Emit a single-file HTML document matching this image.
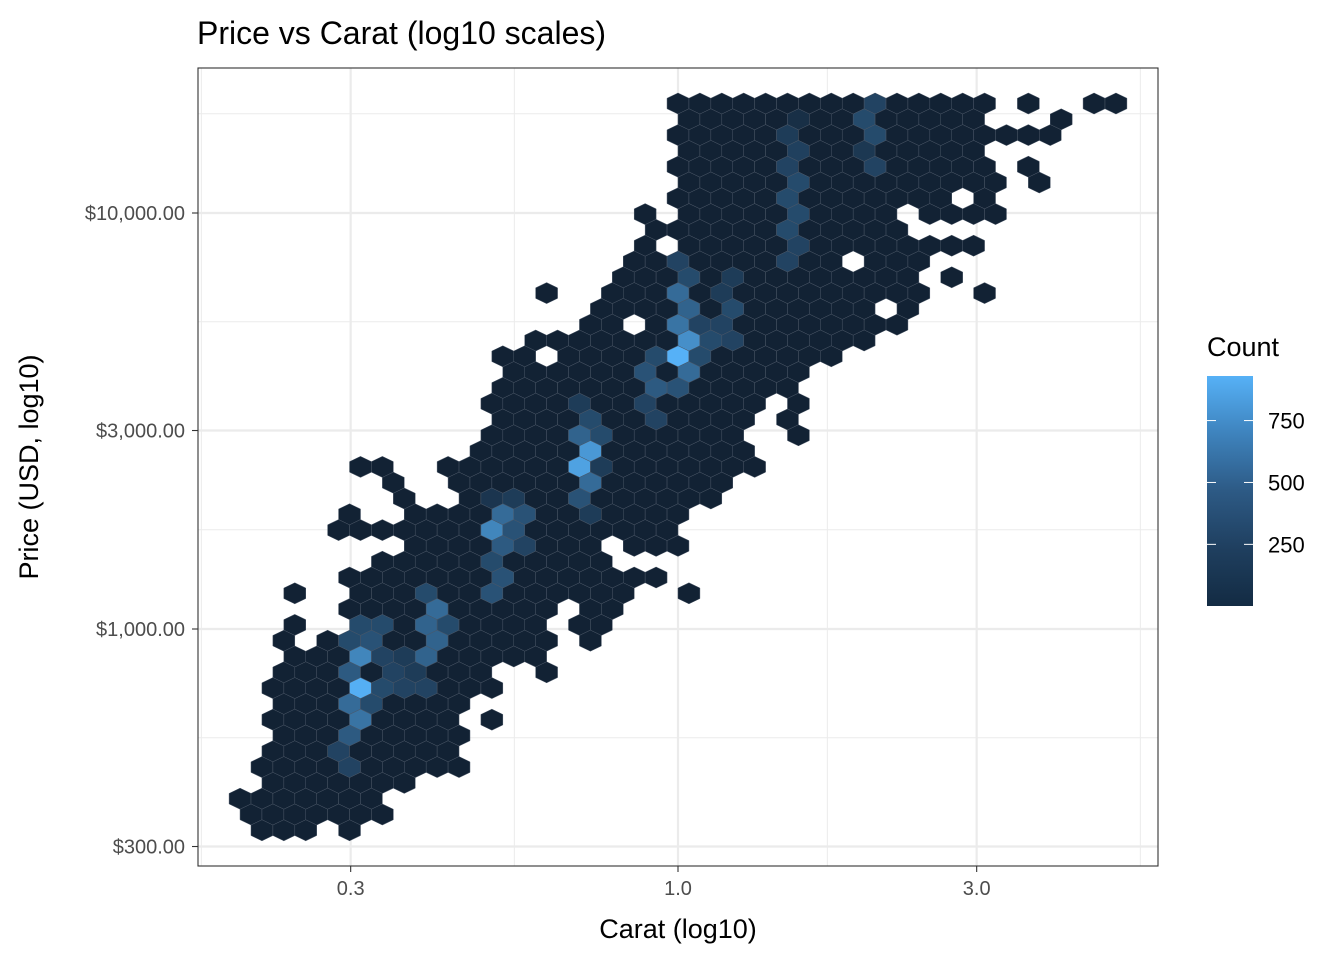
<!DOCTYPE html>
<html><head><meta charset="utf-8"><style>
html,body{margin:0;padding:0;background:#fff;}
svg{display:block;font-family:"Liberation Sans",Arial,sans-serif;}
</style></head><body>
<svg id="chart" width="1344" height="960" viewBox="0 0 1344 960" xmlns="http://www.w3.org/2000/svg">
<rect x="0" y="0" width="1344" height="960" fill="#fff"/>
<text x="197" y="44" font-size="32" fill="#000">Price vs Carat (log10 scales)</text>
<rect x="198" y="68" width="960" height="798" fill="#fff"/>
<g id="grid"></g>
<g id="hexes"></g>
<rect x="198" y="68" width="960" height="798" fill="none" stroke="#333" stroke-width="1.1"/>
<g id="axes"></g>
<text x="678" y="938" font-size="27" text-anchor="middle" fill="#000">Carat (log10)</text>
<text transform="translate(38,467) rotate(-90)" font-size="27" text-anchor="middle" fill="#000">Price (USD, log10)</text>
<g id="legend">
<text x="1207" y="356" font-size="27" fill="#000">Count</text>
<defs><linearGradient id="cg" x1="0" y1="1" x2="0" y2="0">
<stop offset="0" stop-color="#132B43"/><stop offset="0.25" stop-color="#1f3f5f"/><stop offset="0.5" stop-color="#2d5a85"/><stop offset="0.75" stop-color="#3e83bd"/><stop offset="1" stop-color="#56B1F7"/></linearGradient></defs>
<rect x="1207" y="376" width="46" height="230" fill="url(#cg)"/>
</g>
</svg>
<script>
// axis data
const xMajorTicks = [0.3, 1.0, 3.0];
const xTickLabels = ["0.3", "1.0", "3.0"];
const xMinorTicks = [0.1732, 0.5477, 1.7321, 5.4772];
const yMajorTicks = [300, 1000, 3000, 10000];
const yTickLabels = ["$300.00", "$1,000.00", "$3,000.00", "$10,000.00"];
const yMinorTicks = [547.7, 1732.1, 5477.2, 17320.5];
const legendTicks = [250, 500, 750];
const countMin = 1;
const countMax = 930;
// hex bin grid (bin indices) : origin and bin size in log10 units
const binOriginX = 0;        // log10 carat of column 0
const binWidthX = 0.03498;
const binOriginY = 4.2632;   // log10 price of row 0
const binHeightY = 0.03798;
// occupied runs: [row, firstCol, lastCol]  (default count)
const hexRuns = [
[0,0,14],[0,16,16],[0,19,20],
[1,0,13],[1,17,17],
[2,0,17],
[3,0,13],
[4,0,14],[4,16,16],
[5,0,14],[5,16,16],
[6,0,12],[6,14,14],
[7,-2,-2],[7,0,9],[7,11,14],
[8,-1,10],
[9,-2,-2],[9,0,13],
[10,-2,7],[10,9,11],
[11,-3,10],[11,12,12],
[12,-6,-6],[12,-3,11],[12,14,14],
[13,-4,8],[13,10,10],
[14,-4,-3],[14,-1,10],
[15,-7,8],
[16,-8,-7],[16,-5,7],
[17,-8,5],
[18,-8,5],
[19,-9,3],[19,5,5],
[20,-8,3],[20,5,5],
[21,-9,2],[21,5,5],
[22,-9,3],
[23,-15,-14],[23,-11,3],
[24,-13,-13],[24,-10,2],
[25,-13,-13],[25,-10,1],
[26,-15,-15],[26,-12,0],
[27,-16,-1],
[28,-12,-4],[28,-2,0],
[29,-14,-4],
[30,-15,-1],
[31,-18,-18],[31,-15,-3],[31,0,0],
[32,-15,-6],[32,-4,-3],
[33,-18,-18],[33,-15,-7],[33,-5,-4],
[34,-18,-18],[34,-16,-6],[34,-4,-4],
[35,-18,-7],
[36,-18,-9],[36,-6,-6],
[37,-19,-9],
[38,-18,-10],
[39,-19,-11],[39,-9,-9],
[40,-18,-10],
[41,-19,-11],
[42,-19,-10],
[43,-19,-13],
[44,-20,-14],
[45,-20,-14],
[46,-19,-17],[46,-15,-15]
];
const defaultCount = 25;
// cells with higher counts: [row, col, count]
const hexCounts = [
[0,9,300],[1,8,350],[1,5,150],[2,5,250],[2,9,350],[3,5,280],[3,8,220],[4,5,300],[4,9,300],
[5,5,350],[6,5,350],[7,5,350],[8,5,350],[9,5,300],
[10,0,300],[10,5,300],[11,0,350],[11,2,250],[12,0,550],[12,2,250],[13,0,500],[13,2,350],
[14,0,600],[14,1,300],[14,2,300],[15,0,750],[15,1,350],[15,2,300],[16,0,930],[16,-1,350],[16,1,350],
[17,-2,400],[17,0,550],[18,-1,450],[18,0,400],[19,-5,250],[19,-2,300],[20,-4,350],[20,-1,300],
[21,-5,500],[21,-4,350],[22,-4,800],[23,-5,850],[23,-4,250],[24,-4,550],[25,-5,400],[25,-9,200],[25,-8,250],
[26,-8,550],[26,-7,400],[26,-4,250],[27,-9,700],[27,-8,400],[28,-8,450],[28,-7,300],[29,-9,350],[30,-8,400],
[31,-12,350],[31,-9,400],[32,-11,550],[33,-15,350],[33,-14,350],[33,-12,500],[33,-11,350],
[34,-15,350],[34,-14,400],[34,-11,500],[35,-15,700],[35,-14,300],[35,-13,250],[35,-12,500],
[36,-15,450],[36,-13,300],[36,-12,250],[37,-15,920],[37,-14,350],[37,-13,300],[37,-12,300],
[38,-15,550],[38,-14,350],[39,-15,600],[40,-15,450],[41,-16,300],[42,-15,300]
];

const NS = "http://www.w3.org/2000/svg";
function xScale(v){ return 678 + 626 * v; }            // v = log10(carat)
function yScale(v){ return 629 - 416 * (v - 3); }      // v = log10(price)
function lg(v){ return Math.log10(v); }
function legendY(c){ return 606 - (c - countMin) / (countMax - countMin) * 230; }
function mk(tag, attrs, parent){
  const e = document.createElementNS(NS, tag);
  for (const k in attrs) e.setAttribute(k, attrs[k]);
  parent.appendChild(e); return e;
}
function colorFor(c){
  let t = Math.max(0, Math.min(1, (c - countMin) / (countMax - countMin)));
  t = Math.pow(t, 1.25);
  const a = [0x11,0x20,0x32], b = [0x56,0xB1,0xF7];
  const r = a.map((v,i)=>Math.round(v + (b[i]-v)*t));
  return `rgb(${r[0]},${r[1]},${r[2]})`;
}
const grid = document.getElementById('grid');
xMinorTicks.forEach(t=>{ const x=xScale(lg(t)); if(x<198||x>1158) return;
  const l=mk('line',{x1:x,x2:x,y1:68,y2:866,stroke:'#ebebeb','stroke-width':1},grid);
    });
yMinorTicks.forEach(t=>{ const y=yScale(lg(t)); if(y<68||y>866) return;
  const l=mk('line',{x1:198,x2:1158,y1:y,y2:y,stroke:'#ebebeb','stroke-width':1},grid);
    });
xMajorTicks.forEach(t=>{ const x=xScale(lg(t));
  const l=mk('line',{x1:x,x2:x,y1:68,y2:866,stroke:'#ebebeb','stroke-width':2.2},grid);
    });
yMajorTicks.forEach(t=>{ const y=yScale(lg(t));
  const l=mk('line',{x1:198,x2:1158,y1:y,y2:y,stroke:'#ebebeb','stroke-width':2.2},grid);
    });

// hex cells
const counts = {};
hexRuns.forEach(([r,c0,c1])=>{ for(let c=c0;c<=c1;c++) counts[r+','+c]=defaultCount; });
hexCounts.forEach(([r,c,n])=>{ counts[r+','+c]=n; });
const hexG = document.getElementById('hexes');
const hw = 626*binWidthX/2, R = 416*binHeightY/1.5;
Object.keys(counts).forEach(k=>{
  const [r,c] = k.split(',').map(Number);
  const vx = binOriginX + binWidthX*(c + (Math.abs(r)%2)/2);
  const vy = binOriginY - binHeightY*r;
  const cx = xScale(vx), cy = yScale(vy);
  const pts = [[0,-R],[hw,-R/2],[hw,R/2],[0,R],[-hw,R/2],[-hw,-R/2]]
    .map(p=>(cx+p[0]).toFixed(2)+','+(cy+p[1]).toFixed(2)).join(' ');
  const p = mk('polygon',{points:pts,fill:colorFor(counts[k]),stroke:'#4a5666','stroke-width':0.5},hexG);
  
  
});

// axes
const axes = document.getElementById('axes');
xMajorTicks.forEach((t,i)=>{ const x=xScale(lg(t));
  const tk=mk('line',{x1:x,x2:x,y1:866,y2:872,stroke:'#333','stroke-width':1.1},axes);
   
  const tx=mk('text',{x:x,y:895,'font-size':20,'text-anchor':'middle',fill:'#4d4d4d'},axes);
  tx.textContent=xTickLabels[i];
    });
yMajorTicks.forEach((t,i)=>{ const y=yScale(lg(t));
  const tk=mk('line',{x1:192,x2:198,y1:y,y2:y,stroke:'#333','stroke-width':1.1},axes);
   
  const tx=mk('text',{x:185,y:y+7,'font-size':20,'text-anchor':'end',fill:'#4d4d4d'},axes);
  tx.textContent=yTickLabels[i];
    });

// legend ticks
const leg = document.getElementById('legend');
legendTicks.forEach(t=>{ const y=legendY(t);
  const a=mk('line',{x1:1207,x2:1216,y1:y,y2:y,stroke:'#fff','stroke-width':1},leg);
   
  const b=mk('line',{x1:1244,x2:1253,y1:y,y2:y,stroke:'#fff','stroke-width':1},leg);
   
  const tx=mk('text',{x:1268,y:y+8,'font-size':22,fill:'#000'},leg);
  tx.textContent=String(t);
    });
</script>
</body></html>
